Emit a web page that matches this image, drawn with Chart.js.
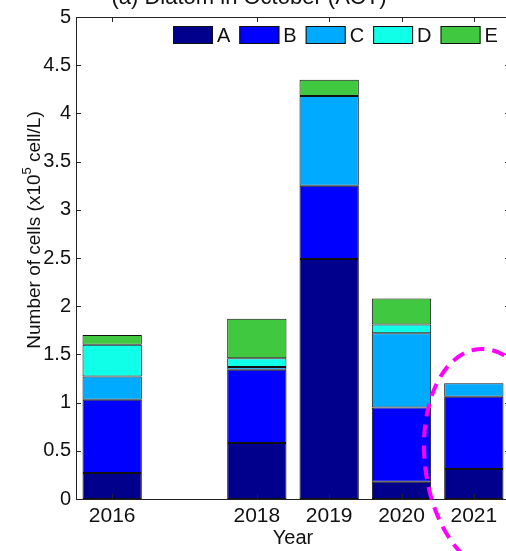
<!DOCTYPE html>
<html>
<head>
<meta charset="utf-8">
<script src="https://cdn.jsdelivr.net/npm/chart.js@4"></script>
<style>
  html, body { margin: 0; padding: 0; background: #fff; overflow: hidden; }
  #wrap { width: 512px; height: 551px; }
</style>
</head>
<body>
<div id="wrap"><canvas id="chart" width="512" height="551"></canvas></div>
<script>
// Diatom cell counts in October, stacked by group (x10^5 cell/L)
const years = ['2016', '', '2018', '2019', '2020', '2021'];
const groupA = [0.27, null, 0.58, 2.49, 0.18, 0.31];
const groupB = [0.76, null, 0.76, 0.76, 0.77, 0.75];
const groupC = [0.24, null, 0.03, 0.93, 0.77, 0.14];
const groupD = [0.33, null, 0.09, null, 0.09, null];
const groupE = [0.10, null, 0.41, 0.17, 0.27, null];
const yTicks = [0, 0.5, 1, 1.5, 2, 2.5, 3, 3.5, 4, 4.5, 5];

const titleText = '(a) Diatom in October (ACT)';
const FONT = "'Liberation Sans', Arial, Helvetica, sans-serif";

function makeSet(label, data, color) {
  return {
    label: label,
    data: data,
    backgroundColor: color,
    borderColor: '#111',
    borderWidth: 1,
    borderSkipped: false,
    barPercentage: 0.82,
    categoryPercentage: 1.0
  };
}

const datasets = [
  makeSet('A', groupA, '#00008c'),
  makeSet('B', groupB, '#0000ff'),
  makeSet('C', groupC, '#00aaff'),
  makeSet('D', groupD, '#10ffe8'),
  makeSet('E', groupE, '#40c840')
];

// MATLAB-style frame: inward ticks, box, legend, title, y label, annotation
const matlabFrame = {
  id: 'matlabFrame',
  afterDraw(chart) {
    const ctx = chart.ctx;
    const area = chart.chartArea;
    const xs = chart.scales.x;
    const ys = chart.scales.y;
    ctx.save();

    // box top and right
    ctx.strokeStyle = '#222';
    ctx.lineWidth = 1;
    ctx.beginPath();
    ctx.moveTo(area.left, area.top + 0.5);
    ctx.lineTo(area.right, area.top + 0.5);
    ctx.moveTo(area.right - 0.5, area.top);
    ctx.lineTo(area.right - 0.5, area.bottom);
    ctx.stroke();

    // inward ticks
    ctx.beginPath();
    yTicks.forEach(v => {
      const py = Math.round(ys.getPixelForValue(v)) + 0.5;
      ctx.moveTo(area.left, py); ctx.lineTo(area.left + 5, py);
      ctx.moveTo(area.right, py); ctx.lineTo(area.right - 5, py);
    });
    years.forEach((lab, i) => {
      if (!lab) return;
      const px = Math.round(xs.getPixelForValue(i)) + 0.5;
      ctx.moveTo(px, area.top); ctx.lineTo(px, area.top + 5);
      ctx.moveTo(px, area.bottom); ctx.lineTo(px, area.bottom - 5);
    });
    ctx.stroke();

    // legend in the upper right
    ctx.font = '20px ' + FONT;
    ctx.textBaseline = 'middle';
    ctx.textAlign = 'left';
    let lx = 173;
    const ly = 26;
    chart.data.datasets.forEach(ds => {
      ctx.fillStyle = ds.backgroundColor;
      ctx.fillRect(lx, ly, 40, 18);
      ctx.strokeStyle = '#111';
      ctx.strokeRect(lx + 0.5, ly + 0.5, 39, 17);
      ctx.fillStyle = '#111';
      ctx.fillText(ds.label, lx + 44, ly + 10);
      lx += 44 + ctx.measureText(ds.label).width + 9;
    });

    // title, mostly cut off at the top
    ctx.font = '22px ' + FONT;
    ctx.textAlign = 'center';
    ctx.textBaseline = 'alphabetic';
    ctx.fillStyle = '#111';
    ctx.fillText(titleText, 249, 4);

    // y axis label with superscript
    ctx.translate(40, 230);
    ctx.rotate(-Math.PI / 2);
    const partA = 'Number of cells (x10';
    const partB = ' cell/L)';
    ctx.font = '19px ' + FONT;
    const wA = ctx.measureText(partA).width;
    const wB = ctx.measureText(partB).width;
    ctx.font = '13px ' + FONT;
    const wS = ctx.measureText('5').width;
    let sx = -(wA + wS + wB) / 2;
    ctx.textAlign = 'left';
    ctx.font = '19px ' + FONT;
    ctx.fillText(partA, sx, 0);
    sx += wA;
    ctx.font = '13px ' + FONT;
    ctx.fillText('5', sx, -9);
    sx += wS;
    ctx.font = '19px ' + FONT;
    ctx.fillText(partB, sx, 0);
    ctx.restore();

    // dashed magenta ellipse around 2021
    ctx.save();
    ctx.strokeStyle = '#ff00ff';
    ctx.lineWidth = 4;
    ctx.setLineDash([13, 8]);
    ctx.beginPath();
    ctx.ellipse(xs.getPixelForValue(5) + 17, ys.getPixelForValue(0.4), 66, 112, -0.12, 0, Math.PI * 2);
    ctx.stroke();
    ctx.restore();
  }
};

new Chart(document.getElementById('chart'), {
  type: 'bar',
  data: { labels: years, datasets: datasets },
  options: {
    responsive: false,
    animation: false,
    layout: { padding: { top: 13, right: 2, left: 0, bottom: 0 } },
    plugins: {
      legend: { display: false },
      tooltip: { enabled: false }
    },
    scales: {
      x: {
        stacked: true,
        grid: { display: false, drawTicks: false },
        border: { display: true, color: '#222', width: 1 },
        ticks: {
          color: '#111',
          font: { family: FONT, size: 21 },
          padding: 5,
          maxRotation: 0,
          autoSkip: false
        },
        title: {
          display: true,
          text: 'Year',
          color: '#111',
          font: { family: FONT, size: 20 },
          padding: { top: 0, bottom: 1 }
        },
        afterFit(scale) { scale.height = 52; }
      },
      y: {
        stacked: true,
        min: 0,
        max: 5,
        grid: { display: false, drawTicks: false },
        border: { display: true, color: '#222', width: 1 },
        ticks: {
          stepSize: 0.5,
          color: '#111',
          font: { family: FONT, size: 20 },
          padding: 5,
          callback: v => String(v)
        },
        afterFit(scale) { scale.width = 76; }
      }
    }
  },
  plugins: [matlabFrame]
});
</script>
</body>
</html>
